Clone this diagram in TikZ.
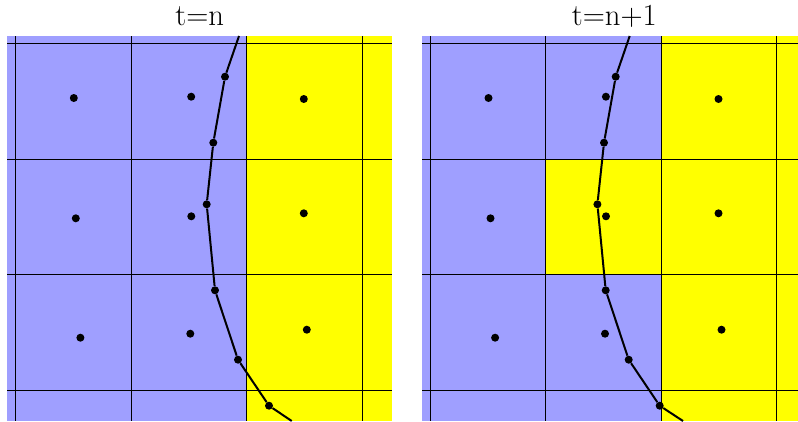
\documentclass[tikz,border=0pt]{standalone}
\usetikzlibrary{positioning}
\definecolor{CellBlue}{HTML}{9F9FFF}
\definecolor{CellYellow}{HTML}{FFFF00}

\begin{document}
\begin{tikzpicture}[x=0.75pt,y=-0.75pt,
  gridline/.style={black,line width=0.75pt},
  cdot/.style={circle,fill=black,inner sep=0pt,minimum size=6pt},
  front/.style={black,line width=1.5pt,line join=round},
  title/.style={anchor=base,font=\fontsize{23}{28}\selectfont}]
  \useasboundingbox (0,0) rectangle (798,421);
  % cells
  \fill[CellBlue] (7,36) rectangle (246.5,421);
  \fill[CellYellow] (246.5,36) rectangle (392,421);
  \fill[CellBlue] (422,36) rectangle (661.2,421);
  \fill[CellYellow] (661.2,36) rectangle (798,421);
  \fill[CellYellow] (545.7,159) rectangle (661.2,274.5);
  % grid
  \foreach \y in {43.5,159,274.5,390} {
    \draw[gridline] (7,\y) -- (392,\y);
    \draw[gridline] (422,\y) -- (798,\y);
  }
  \foreach \x in {15.5,131,246.5,362} {
    \draw[gridline] (\x,36) -- (\x,421);
    \draw[gridline] (\x+414.7,36) -- (\x+414.7,421);
  }
  % cell centres
  \foreach \x/\y [count=\i] in {73.8/98,191.2/96.7,303.8/99,
      75.8/218.3,191.3/216.3,303.8/213.3,80.4/337.7,190.3/333.7,306.8/329.7} {
    \node[cdot] (cL\i) at (\x,\y) {};
    \node[cdot] (cR\i) at (\x+414.7,\y) {};
  }
  % interface, t=n
  \coordinate (fL0) at (239,36);
  \coordinate (fL7) at (291.7,421);
  \foreach \x/\y [count=\i] in {225/76.7,213.3/142.7,206.7/204.3,215/290.3,238/359.7,269/405.7} {
    \node[cdot] (fL\i) at (\x,\y) {};
    \node[cdot] (fR\i) at (\x+390.7,\y) {};
  }
  \draw[front] (fL0) -- (fL1) -- (fL2) -- (fL3) -- (fL4) -- (fL5) -- (fL6) -- (fL7);
  % interface, t=n+1
  \coordinate (fR0) at (629.7,36);
  \coordinate (fR7) at (683,421);
  \draw[front] (fR0) -- (fR1) -- (fR2) -- (fR3) -- (fR4) -- (fR5) -- (fR6) -- (fR7);
  % titles
  \node[title] (titleL) at (199.7,25) {t=n};
  \node[title] (titleR) at (614.3,25) {t=n+1};
\end{tikzpicture}
\end{document}
